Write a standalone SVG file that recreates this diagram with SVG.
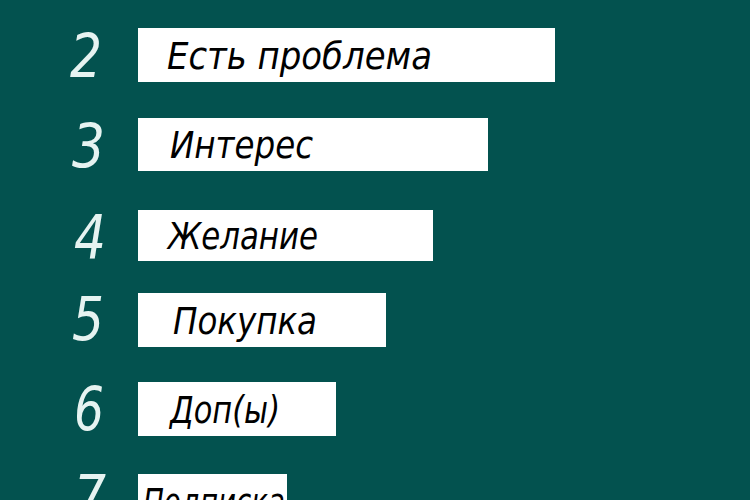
<svg xmlns="http://www.w3.org/2000/svg" width="750" height="500" viewBox="0 0 750 500">
  <style>
    .bg { fill: #03524f; }
    .bar { fill: #ffffff; }
    .num { fill: #e6f3f1; font-family: "DejaVu Sans", "Liberation Sans", sans-serif; font-stretch: condensed; font-size: 60px; font-weight: 400; font-style: italic; }
    .lbl { fill: #000000; font-family: "DejaVu Sans", "Liberation Sans", sans-serif; font-stretch: condensed; font-style: italic; font-size: 37px; }
  </style>
  <rect class="bg" x="0" y="0" width="750" height="500"/>
  <g id="step2">
    <text class="num" x="70" y="77" textLength="32" lengthAdjust="spacingAndGlyphs">2</text>
    <rect class="bar" x="138" y="28" width="417" height="54"/>
    <text class="lbl" x="167" y="69" textLength="265" lengthAdjust="spacingAndGlyphs">Есть проблема</text>
  </g>
  <g id="step3">
    <text class="num" x="72" y="167" textLength="33" lengthAdjust="spacingAndGlyphs">3</text>
    <rect class="bar" x="138" y="118" width="350" height="53"/>
    <text class="lbl" x="170" y="158" textLength="143" lengthAdjust="spacingAndGlyphs">Интерес</text>
  </g>
  <g id="step4">
    <text class="num" x="74" y="258" textLength="32" lengthAdjust="spacingAndGlyphs">4</text>
    <rect class="bar" x="138" y="210" width="295" height="51"/>
    <text class="lbl" x="168" y="249" textLength="150" lengthAdjust="spacingAndGlyphs">Желание</text>
  </g>
  <g id="step5">
    <text class="num" x="72" y="340" textLength="32" lengthAdjust="spacingAndGlyphs">5</text>
    <rect class="bar" x="138" y="293" width="248" height="54"/>
    <text class="lbl" x="173" y="334" textLength="144" lengthAdjust="spacingAndGlyphs">Покупка</text>
  </g>
  <g id="step6">
    <text class="num" x="74" y="430" textLength="30" lengthAdjust="spacingAndGlyphs">6</text>
    <rect class="bar" x="138" y="382" width="198" height="54"/>
    <text class="lbl" x="170" y="423" textLength="110" lengthAdjust="spacingAndGlyphs">Доп(ы)</text>
  </g>
  <g id="step7">
    <text class="num" x="74" y="518" textLength="32" lengthAdjust="spacingAndGlyphs">7</text>
    <rect class="bar" x="138" y="474" width="149" height="30"/>
    <text class="lbl" x="143" y="515" textLength="142" lengthAdjust="spacingAndGlyphs">Подписка</text>
  </g>
  <g id="connectors"></g>
</svg>
